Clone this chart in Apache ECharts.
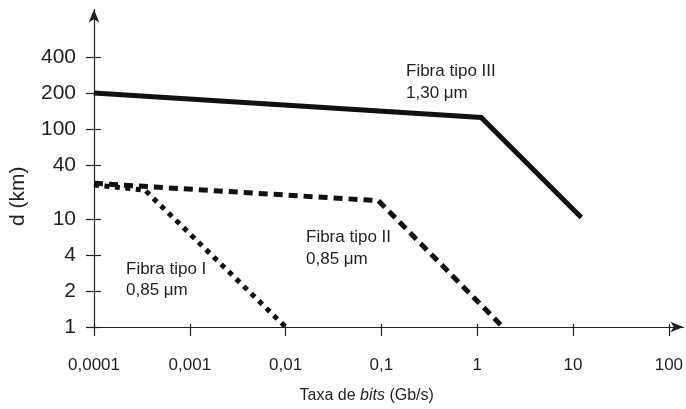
<!DOCTYPE html>
<html>
<head>
<meta charset="utf-8">
<script src="https://cdn.jsdelivr.net/npm/echarts@6/dist/echarts.min.js"></script>
<style>
  html, body { margin: 0; padding: 0; background: #fff; }
  #main { width: 686px; height: 409px; }
</style>
</head>
<body>
<div id="main"></div>
<script>
// ticks of the two axes
var xTicks = [0.0001, 0.001, 0.01, 0.1, 1, 10, 100];
var xLabels = ['0,0001', '0,001', '0,01', '0,1', '1', '10', '100'];
var yTicks = [1, 2, 4, 10, 40, 100, 200, 400];

// taxa (Gb/s) and distance d (km)
var rateI = [0.0001, 0.00034, 0.01];
var distI = [24, 21, 1];
var rateII = [0.0001, 0.093, 1.85];
var distII = [25, 16, 1];
var rateIII = [0.0001, 1.1, 12.2];
var distIII = [200, 125, 10.4];

// the figure's d axis is hand drawn: each tick is one step, 10 -> 40 is a step and a half
var ySlots = [0, 1, 2, 3, 4.5, 5.5, 6.5, 7.5];
function toSlot(d) {
    for (var i = 0; i < yTicks.length - 1; i++) {
        if (d <= yTicks[i + 1] || i == yTicks.length - 2) {
            var f = Math.log(d / yTicks[i]) / Math.log(yTicks[i + 1] / yTicks[i]);
            return ySlots[i] + f * (ySlots[i + 1] - ySlots[i]);
        }
    }
}
function pairs(rates, dists) {
    var out = [];
    for (var i = 0; i < rates.length; i++) out.push([rates[i], toSlot(dists[i])]);
    return out;
}

var font = "'Liberation Sans', Arial, sans-serif";
var ink = '#231f20';
var xMax = 142;
var yMax = 8.82;

var myChart = echarts.init(document.getElementById('main'));
myChart.setOption({
    animation: false,
    backgroundColor: '#fff',
    grid: { left: 92.5, right: 1, top: 9.5, bottom: 82 },
    xAxis: [{
        type: 'log',
        position: 'bottom',
        min: 0.0001,
        max: xMax,
        axisLine: { lineStyle: { color: ink, width: 1.2 }, symbol: ['none', 'arrow'], symbolSize: [8, 13] },
        axisTick: { length: 9, lineStyle: { color: ink, width: 1.2 }, customValues: xTicks },
        axisLabel: {
            color: ink, fontSize: 17, fontFamily: font, margin: 30,
            customValues: xTicks,
            formatter: function (v) {
                var best = 0;
                for (var i = 0; i < xTicks.length; i++) {
                    if (Math.abs(Math.log10(v / xTicks[i])) < Math.abs(Math.log10(v / xTicks[best]))) best = i;
                }
                return xLabels[best];
            }
        },
        splitLine: { show: false },
        minorTick: { show: false },
        name: '{a|Taxa de }{b|bits}{a| (Gb/s)}',
        nameLocation: 'middle',
        nameGap: 61,
        nameTextStyle: {
            padding: [0, 44, 0, 0],
            rich: {
                a: { fontSize: 16, fontFamily: font, color: ink },
                b: { fontSize: 16, fontFamily: font, color: ink, fontStyle: 'italic' }
            }
        }
    }, {
        type: 'log',
        position: 'bottom',
        min: 0.0001,
        max: xMax,
        axisLine: { show: false },
        axisTick: { inside: true, length: 3, lineStyle: { color: ink, width: 1.2 }, customValues: xTicks },
        axisLabel: { show: false },
        splitLine: { show: false }
    }],
    yAxis: [{
        type: 'value',
        position: 'left',
        min: 0,
        max: yMax,
        axisLine: { show: true, lineStyle: { color: ink, width: 1.2 }, symbol: ['none', 'arrow'], symbolSize: [8, 13] },
        axisTick: { show: true, length: 8, lineStyle: { color: ink, width: 1.2 }, customValues: ySlots },
        axisLabel: {
            color: ink, fontSize: 21, fontFamily: font, margin: 18,
            customValues: ySlots,
            formatter: function (v) {
                for (var i = 0; i < ySlots.length; i++) {
                    if (Math.abs(ySlots[i] - v) < 0.01) return String(yTicks[i]);
                }
                return '';
            }
        },
        splitLine: { show: false },
        name: 'd (km)',
        nameLocation: 'middle',
        nameRotate: 90,
        nameGap: 65,
        nameTextStyle: { fontSize: 21, fontFamily: font, color: ink, padding: [0, 56, 0, 0] }
    }, {
        type: 'value',
        position: 'left',
        min: 0,
        max: yMax,
        axisLine: { show: false },
        axisTick: { show: true, inside: true, length: 7, lineStyle: { color: ink, width: 1.2 }, customValues: ySlots },
        axisLabel: { show: false },
        splitLine: { show: false }
    }],
    series: [{
        name: 'Fibra tipo III',
        type: 'line',
        data: pairs(rateIII, distIII),
        symbol: 'none',
        lineStyle: { color: '#111', width: 5, type: 'solid', join: 'miter' }
    }, {
        name: 'Fibra tipo II',
        type: 'line',
        data: pairs(rateII, distII),
        symbol: 'none',
        lineStyle: { color: '#111', width: 5, type: [9, 6], cap: 'butt', join: 'miter' }
    }, {
        name: 'Fibra tipo I',
        type: 'line',
        data: pairs(rateI, distI),
        symbol: 'none',
        lineStyle: { color: '#111', width: 5, type: [5, 5.5], cap: 'butt', join: 'miter' }
    }],
    graphic: [{
        type: 'text', left: 406, top: 60.5,
        style: { text: 'Fibra tipo III\n1,30 μm', fontSize: 17, fontFamily: font, fill: ink, lineHeight: 22 }
    }, {
        type: 'text', left: 306, top: 226.5,
        style: { text: 'Fibra tipo II\n0,85 μm', fontSize: 17, fontFamily: font, fill: ink, lineHeight: 22 }
    }, {
        type: 'text', left: 126, top: 259,
        style: { text: 'Fibra tipo I\n0,85 μm', fontSize: 17, fontFamily: font, fill: ink, lineHeight: 21 }
    }]
});
</script>
</body>
</html>
